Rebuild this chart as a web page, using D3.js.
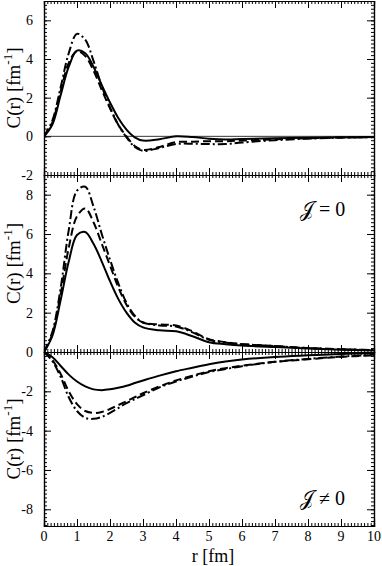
<!DOCTYPE html>
<html lang="en">
<head>
<meta charset="utf-8">
<title>C(r) panels</title>
<script src="https://cdn.jsdelivr.net/npm/d3@7"></script>
<style>
  body { margin: 0; background: #fff; }
  text { font-family: "Liberation Serif", "DejaVu Serif", serif; }
</style>
</head>
<body>
<script>
// radial grid (fm)
var rVals = [0, 0.25, 0.5, 0.75, 1, 1.25, 1.5, 1.75, 2, 2.25, 2.5, 2.75, 3, 3.5, 4, 4.5, 5, 5.5, 6, 7, 8, 9, 10];

// top panel
var topSolid   = [0, 0.6, 2.1, 3.6, 4.43, 4.3, 3.6, 2.65, 1.75, 0.95, 0.35, -0.05, -0.22, -0.15, 0.0, -0.04, -0.12, -0.16, -0.14, -0.1, -0.07, -0.05, -0.03];
var topDashed  = [0, 0.7, 2.3, 3.8, 4.4, 4.15, 3.4, 2.4, 1.45, 0.6, 0.0, -0.5, -0.7, -0.55, -0.3, -0.28, -0.25, -0.25, -0.22, -0.15, -0.1, -0.06, -0.04];
var topDashDot = [0, 0.8, 2.5, 4.3, 5.3, 5.0, 3.9, 2.6, 1.5, 0.6, -0.05, -0.55, -0.75, -0.6, -0.4, -0.38, -0.4, -0.4, -0.32, -0.2, -0.12, -0.07, -0.04];

// middle panel (J = 0)
var midSolid   = [0, 0.8, 2.6, 4.6, 5.95, 6.1, 5.5, 4.6, 3.6, 2.7, 2.0, 1.5, 1.25, 1.1, 1.05, 0.8, 0.5, 0.4, 0.33, 0.25, 0.18, 0.12, 0.08];
var midDashed  = [0, 0.9, 2.9, 5.3, 6.9, 7.3, 6.6, 5.5, 4.4, 3.3, 2.4, 1.8, 1.5, 1.4, 1.35, 1.05, 0.65, 0.5, 0.4, 0.3, 0.2, 0.14, 0.1];
var midDashDot = [0, 1.0, 3.2, 6.2, 8.2, 8.4, 7.4, 6.0, 4.7, 3.5, 2.5, 1.85, 1.5, 1.35, 1.3, 1.0, 0.62, 0.48, 0.4, 0.3, 0.2, 0.14, 0.1];

// bottom panel (J != 0)
var botSolid   = [0, -0.25, -0.7, -1.15, -1.5, -1.75, -1.9, -1.94, -1.9, -1.82, -1.72, -1.58, -1.45, -1.2, -0.98, -0.8, -0.62, -0.48, -0.38, -0.25, -0.17, -0.1, -0.06];
var botDashed  = [0, -0.4, -1.1, -2.0, -2.65, -3.0, -3.1, -3.05, -2.9, -2.7, -2.5, -2.3, -2.1, -1.75, -1.45, -1.2, -0.98, -0.82, -0.7, -0.5, -0.37, -0.25, -0.17];
var botDashDot = [0, -0.45, -1.25, -2.3, -3.0, -3.35, -3.4, -3.3, -3.1, -2.85, -2.6, -2.4, -2.2, -1.8, -1.5, -1.25, -1.02, -0.87, -0.72, -0.5, -0.35, -0.23, -0.14];

var xTicks = [0, 1, 2, 3, 4, 5, 6, 7, 8, 9, 10];
var topTicks = [6, 4, 2, 0, -2];
var midTicks = [8, 6, 4, 2, 0];
var botTicks = [-2, -4, -6, -8];

var serif = "'Liberation Serif', 'DejaVu Serif', serif";
var w = 382, h = 566;
var left = 44, right = 374;

var svg = d3.select("body").append("svg")
    .attr("width", w)
    .attr("height", h);

var x = d3.scaleLinear().domain([0, 10]).range([left, right]);

var panels = [
  { dom: [-2, 7], px: [175, 1], series: [topSolid, topDashed, topDashDot], ticks: topTicks, zero: true },
  { dom: [0, 9], px: [352, 175], series: [midSolid, midDashed, midDashDot], ticks: midTicks, label: "= 0", ly: 216 },
  { dom: [-8.85, 0], px: [526, 352], series: [botSolid, botDashed, botDashDot], ticks: botTicks, label: "\u2260 0", ly: 505 }
];

var styles = [
  { dash: null },
  { dash: "8,4" },
  { dash: "9,3,2,3" }
];

function minor(lo, hi, step) {
  var out = [];
  for (var v = lo; v <= hi + 1e-9; v += step) out.push(+v.toFixed(3));
  return out;
}

panels.forEach(function(p, pi) {
  var y = d3.scaleLinear().domain(p.dom).range(p.px);
  var g = svg.append("g");

  var cid = "clip" + pi;
  svg.append("clipPath").attr("id", cid)
    .append("rect")
    .attr("x", left).attr("y", p.px[1])
    .attr("width", right - left).attr("height", p.px[0] - p.px[1]);

  if (p.zero) {
    g.append("line")
      .attr("x1", left).attr("x2", right)
      .attr("y1", y(0)).attr("y2", y(0))
      .attr("stroke", "#000").attr("stroke-width", 0.8);
  }

  var line = d3.line()
    .x(function(d, i) { return x(rVals[i]); })
    .y(function(d) { return y(d); })
    .curve(d3.curveCatmullRom.alpha(0.5));

  p.series.forEach(function(s, si) {
    g.append("path")
      .attr("clip-path", "url(#" + cid + ")")
      .attr("d", line(s))
      .attr("fill", "none")
      .attr("stroke", "#000")
      .attr("stroke-width", 2)
      .attr("stroke-dasharray", styles[si].dash);
  });

  // minor ticks
  var yMinor = minor(Math.ceil(p.dom[0] / 0.2) * 0.2, p.dom[1], 0.2);
  var xMinor = minor(0, 10, 0.1);

  function drawAxis(axis, tx, ty) {
    var a = g.append("g").attr("transform", "translate(" + tx + "," + ty + ")").call(axis);
    a.select(".domain").attr("stroke", "#000").attr("stroke-width", 1.2);
    a.selectAll(".tick line").attr("stroke", "#000");
    return a;
  }

  drawAxis(d3.axisLeft(y).tickValues(yMinor).tickSize(-3).tickFormat(""), left, 0);
  drawAxis(d3.axisRight(y).tickValues(yMinor).tickSize(-3).tickFormat(""), right, 0);
  drawAxis(d3.axisBottom(x).tickValues(xMinor).tickSize(-3).tickFormat(""), 0, p.px[0]);
  drawAxis(d3.axisTop(x).tickValues(xMinor).tickSize(-3).tickFormat(""), 0, p.px[1]);

  var yl = drawAxis(d3.axisLeft(y).tickValues(p.ticks).tickSize(-7).tickPadding(11)
      .tickFormat(function(d) { return d; }), left, 0);
  yl.attr("font-family", serif);
  yl.selectAll("text").attr("font-size", 14).attr("fill", "#000");
  drawAxis(d3.axisRight(y).tickValues(p.ticks).tickSize(-7).tickFormat(""), right, 0);
  drawAxis(d3.axisBottom(x).tickValues(xTicks).tickSize(-7).tickFormat(""), 0, p.px[0]);
  drawAxis(d3.axisTop(x).tickValues(xTicks).tickSize(-7).tickFormat(""), 0, p.px[1]);

  // y axis title
  var cy = (p.px[0] + p.px[1]) / 2;
  var t = svg.append("text")
    .attr("transform", "translate(20," + cy + ") rotate(-90)")
    .attr("text-anchor", "middle")
    .attr("font-family", serif)
    .attr("font-size", 19);
  t.append("tspan").text("C(r) [fm");
  t.append("tspan").attr("dy", -8).attr("font-size", 13).text("-1");
  t.append("tspan").attr("dy", 8).text("]");

  if (p.label) {
    var lab = svg.append("text")
      .attr("x", 300)
      .attr("y", p.ly)
      .attr("font-family", serif)
      .attr("font-size", 20);
    lab.append("tspan").text("\uD835\uDCA5");
    lab.append("tspan").attr("dx", 5).text(p.label);
  }
});

// x tick labels on the bottom
svg.append("g").selectAll("text")
  .data(xTicks)
  .enter()
  .append("text")
  .attr("x", function(d) { return x(d); })
  .attr("y", 541)
  .attr("text-anchor", "middle")
  .attr("font-family", serif)
  .attr("font-size", 14)
  .text(function(d) { return d; });

svg.append("text")
  .attr("x", 213)
  .attr("y", 562)
  .attr("text-anchor", "middle")
  .attr("font-family", serif)
  .attr("font-size", 18)
  .text("r [fm]");
</script>
</body>
</html>
